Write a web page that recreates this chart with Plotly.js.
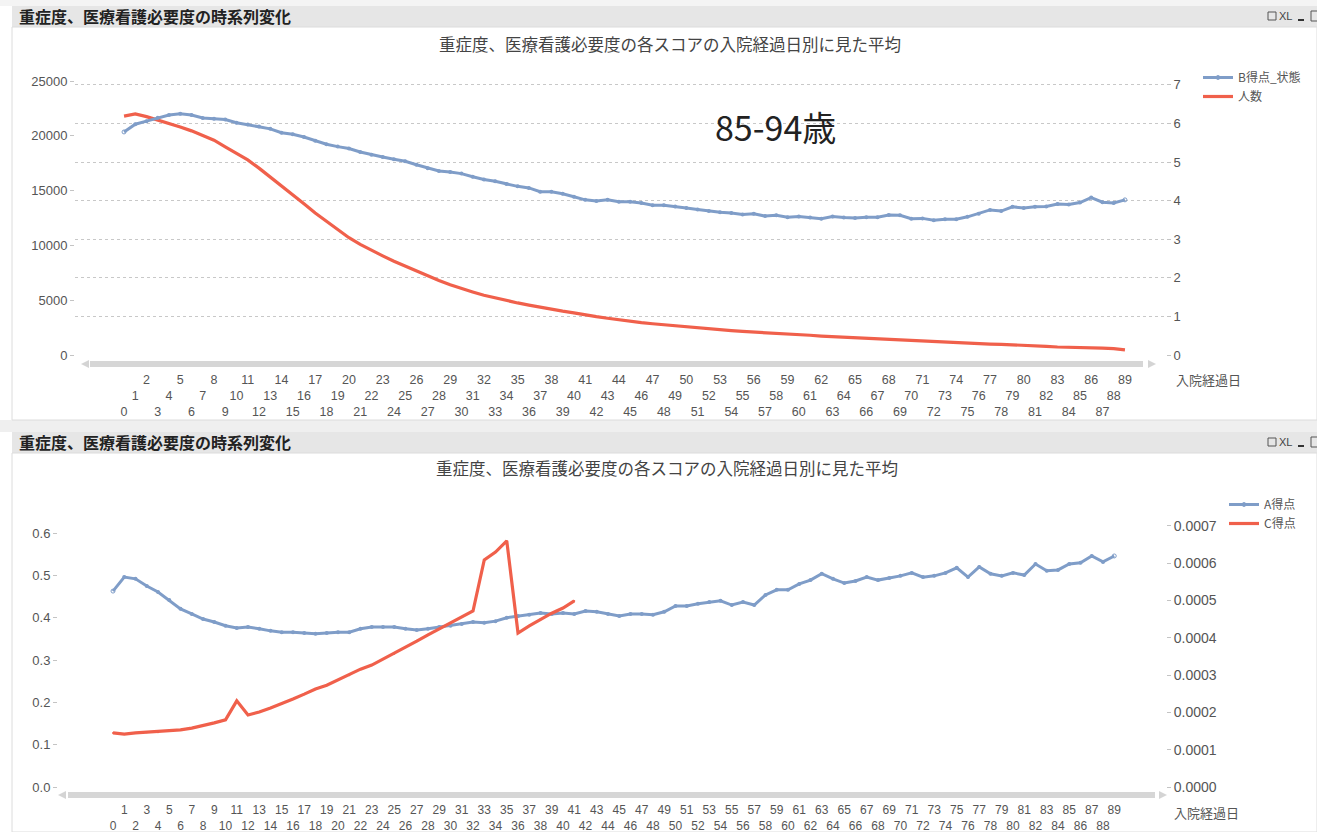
<!DOCTYPE html>
<html>
<head>
<meta charset="utf-8">
<script src="https://cdn.plot.ly/plotly-3.0.1.min.js"></script>
<style>html,body{margin:0;padding:0;background:#fff;}#chart{width:1317px;height:832px;}</style>
</head>
<body>
<div id="chart"></div>
<script>
// ---------- data ----------
const days = [0,1,2,3,4,5,6,7,8,9,10,11,12,13,14,15,16,17,18,19,20,21,22,23,24,25,26,27,28,29,30,31,32,33,34,35,36,37,38,39,40,41,42,43,44,45,46,47,48,49,50,51,52,53,54,55,56,57,58,59,60,61,62,63,64,65,66,67,68,69,70,71,72,73,74,75,76,77,78,79,80,81,82,83,84,85,86,87,88,89];

// top chart: B得点_状態 (right axis) and 人数 (left axis)
const bScore = [5.78,5.98,6.06,6.15,6.22,6.25,6.22,6.14,6.12,6.10,6.02,5.97,5.92,5.86,5.76,5.72,5.65,5.55,5.46,5.40,
5.35,5.26,5.19,5.13,5.07,5.02,4.93,4.84,4.77,4.74,4.70,4.62,4.55,4.50,4.43,4.37,4.33,4.23,4.23,4.18,
4.10,4.02,3.99,4.02,3.97,3.97,3.94,3.88,3.88,3.85,3.81,3.77,3.73,3.70,3.68,3.64,3.66,3.60,3.62,3.57,
3.59,3.56,3.53,3.59,3.56,3.55,3.57,3.57,3.63,3.62,3.53,3.54,3.49,3.52,3.52,3.58,3.66,3.76,3.73,3.84,
3.81,3.84,3.85,3.91,3.90,3.95,4.08,3.96,3.94,4.02];
const patients = [21800,22000,21750,21450,21150,20800,20450,20050,19600,19000,18400,17800,17050,16250,15450,14650,13800,12950,12200,11400,
10700,10100,9550,9050,8550,8100,7650,7200,6800,6400,6050,5750,5450,5200,4950,4750,4550,4350,4200,4000,
3850,3650,3500,3350,3200,3100,2950,2850,2750,2650,2550,2450,2350,2280,2220,2150,2100,2040,1980,1920,
1860,1800,1730,1680,1620,1560,1500,1440,1380,1350,1310,1280,1220,1150,1090,1060,1030,1000,970,940,
910,860,790,730,720,700,660,620,580,470];

// bottom chart: A得点 (left axis) and C得点 (right axis)
const aScore = [0.463,0.496,0.492,0.475,0.461,0.442,0.421,0.409,0.397,0.390,0.381,0.376,0.378,0.374,0.369,0.366,0.366,0.364,0.362,0.364,
0.366,0.366,0.374,0.378,0.378,0.378,0.374,0.371,0.374,0.378,0.381,0.385,0.390,0.388,0.392,0.400,0.404,0.407,0.411,0.409,
0.411,0.409,0.416,0.414,0.409,0.404,0.409,0.409,0.407,0.414,0.428,0.428,0.433,0.437,0.440,0.430,0.437,0.430,0.454,0.466,
0.466,0.480,0.489,0.504,0.492,0.482,0.487,0.496,0.489,0.494,0.499,0.506,0.496,0.499,0.506,0.518,0.496,0.520,0.504,0.499,
0.506,0.501,0.527,0.511,0.513,0.527,0.530,0.546,0.532,0.546];
const cDays = [0,1,2,3,4,5,6,7,8,9,10,11,12,13,14,15,16,17,18,19,20,21,22,23,24,25,26,27,28,29,30,31,32,33,34,35,36,37,38,39,40,41];
const cScore = [0.000145,0.000142,0.000145,0.000147,0.000147,0.000150,0.000153,0.000158,0.000164,0.000172,0.000180,0.000231,0.000193,0.000201,0.000212,0.000223,0.000236,0.000249,0.000263,0.000273,
0.000287,0.000300,0.000316,0.000327,0.000343,0.000357,0.000375,0.000391,0.000408,0.000424,0.000440,0.000456,0.000472,0.000609,0.000630,0.000660,0.000413,0.000432,0.000450,0.000466,
0.000480,0.000499];

const panelTitle = '重症度、医療看護必要度の時系列変化';
const chartTitle = '重症度、医療看護必要度の各スコアの入院経過日別に見た平均';
const ageLabel = '85-94歳';
const xTitle = '入院経過日';
const leftTicksTop = [0,5000,10000,15000,20000,25000];
const leftTicksBottom = [0,0.1,0.2,0.3,0.4,0.5,0.6];

// staggered tick labels
const topTickText = days.map(d => d % 3 === 2 ? String(d) : (d % 3 === 1 ? '<br>' + d : '<br><br>' + d));
const bottomTickText = days.map(d => d % 2 === 1 ? String(d) : '<br>' + d);

// ---------- layout helpers ----------
const W = 1317, H = 832;
const px = x => x / W;
const py = y => 1 - y / H;
const NUM = 'Liberation Sans Narrow, Liberation Sans, Arial Narrow, sans-serif';
const JP = 'Noto Sans CJK JP, sans-serif';
const BLUE = '#7f9dc8';
const RED = '#f0604b';
const TXT = '#555';

const endSymbols = n => Array.from({length: n}, (_, i) => (i === 0 || i === n - 1) ? 'circle-open' : 'circle');

const traces = [
  {x: days, y: bScore, name: 'B得点_状態', type: 'scatter', mode: 'lines+markers',
   xaxis: 'x', yaxis: 'y2', legend: 'legend',
   line: {color: BLUE, width: 3}, marker: {color: BLUE, size: 4, symbol: endSymbols(days.length)}},
  {x: days, y: patients, name: '人数', type: 'scatter', mode: 'lines',
   xaxis: 'x', yaxis: 'y', legend: 'legend',
   line: {color: RED, width: 3.2}},
  {x: days, y: aScore, name: 'A得点', type: 'scatter', mode: 'lines+markers',
   xaxis: 'x2', yaxis: 'y3', legend: 'legend2',
   line: {color: BLUE, width: 3}, marker: {color: BLUE, size: 4, symbol: endSymbols(days.length)}},
  {x: cDays, y: cScore, name: 'C得点', type: 'scatter', mode: 'lines+markers',
   xaxis: 'x2', yaxis: 'y4', legend: 'legend2',
   line: {color: RED, width: 3.2}, marker: {color: RED, size: 2}}
];

function rect(x0, y0, x1, y1, fill, lineColor) {
  return {type: 'rect', xref: 'paper', yref: 'paper', x0: px(x0), x1: px(x1), y0: py(y1), y1: py(y0),
          fillcolor: fill, line: {width: lineColor ? 1 : 0, color: lineColor || fill}, layer: 'below'};
}
function tri(x, y, dir) {
  const s = 4;
  const p = dir < 0
    ? `M${px(x - s)},${py(y)} L${px(x + s)},${py(y - s)} L${px(x + s)},${py(y + s)} Z`
    : `M${px(x + s)},${py(y)} L${px(x - s)},${py(y - s)} L${px(x - s)},${py(y + s)} Z`;
  return {type: 'path', xref: 'paper', yref: 'paper', path: p, fillcolor: '#d4d4d4', line: {width: 0}};
}

const shapes = [
  rect(0, 0, 1317, 6, '#f4f4f4'),
  rect(0, 420, 1317, 432, '#efefef'),
  rect(12, 6, 1317, 27, '#e6e6e6'),
  rect(12, 27, 1317, 420, '#ffffff', '#dcdcdc'),
  rect(12, 432, 1317, 453, '#e6e6e6'),
  rect(12, 453, 1317, 832, '#ffffff', '#dcdcdc'),
  // scrollbars
  rect(90, 361, 1143, 367, '#d6d6d6'),
  rect(68, 792, 1155, 798, '#d6d6d6'),
  tri(85, 364, -1), tri(1152, 364, 1),
  tri(62, 795, -1), tri(1163, 795, 1),
  // header icons
  {type: 'rect', xref: 'paper', yref: 'paper', x0: px(1268), x1: px(1276), y0: py(20), y1: py(12), line: {color: '#555', width: 1}},
  {type: 'line', xref: 'paper', yref: 'paper', x0: px(1298), x1: px(1304), y0: py(20), y1: py(20), line: {color: '#333', width: 2}},
  {type: 'rect', xref: 'paper', yref: 'paper', x0: px(1311), x1: px(1320), y0: py(21), y1: py(11), line: {color: '#555', width: 1}},
  {type: 'rect', xref: 'paper', yref: 'paper', x0: px(1268), x1: px(1276), y0: py(446), y1: py(438), line: {color: '#555', width: 1}},
  {type: 'line', xref: 'paper', yref: 'paper', x0: px(1298), x1: px(1304), y0: py(446), y1: py(446), line: {color: '#333', width: 2}},
  {type: 'rect', xref: 'paper', yref: 'paper', x0: px(1311), x1: px(1320), y0: py(447), y1: py(437), line: {color: '#555', width: 1}}
];

function ann(text, x, y, opts) {
  return Object.assign({text: text, xref: 'paper', yref: 'paper', x: px(x), y: py(y), showarrow: false,
    xanchor: 'left', yanchor: 'middle', font: {family: JP, size: 13, color: TXT}}, opts || {});
}

const annotations = [
  ann(panelTitle, 17, 16, {font: {family: JP, size: 16, color: '#222', weight: 'bold'}}),
  ann(panelTitle, 17, 442, {font: {family: JP, size: 16, color: '#222', weight: 'bold'}}),
  ann('XL', 1285, 16, {font: {family: NUM, size: 11, color: '#444'}, xanchor: 'center'}),
  ann('XL', 1285, 442, {font: {family: NUM, size: 11, color: '#444'}, xanchor: 'center'}),
  ann(chartTitle, 670, 44, {xanchor: 'center', font: {family: JP, size: 16.5, color: '#444'}}),
  ann(chartTitle, 667, 468, {xanchor: 'center', font: {family: JP, size: 16.5, color: '#444'}}),
  ann(ageLabel, 775, 126, {xanchor: 'center', font: {family: JP, size: 34, color: '#222'}}),
  ann(xTitle, 1208, 380, {xanchor: 'center', font: {family: JP, size: 13, color: TXT}}),
  ann(xTitle, 1206, 812, {xanchor: 'center', font: {family: JP, size: 13, color: TXT}})
];

const layout = {
  width: W, height: H,
  margin: {l: 0, r: 0, t: 0, b: 0},
  paper_bgcolor: '#ffffff',
  plot_bgcolor: 'rgba(0,0,0,0)',
  showlegend: true,
  font: {family: NUM, color: TXT},
  xaxis: {domain: [px(75), px(1166)], range: [-4.36, 92.65], anchor: 'y',
          tickmode: 'array', tickvals: days, ticktext: topTickText, tickangle: 0,
          tickfont: {family: NUM, size: 12.5, color: TXT}, ticks: '', ticklabelstandoff: 15,
          showgrid: false, zeroline: false, showline: false, fixedrange: true},
  yaxis: {domain: [py(355), py(81)], range: [0, 25000], tickmode: 'array', tickvals: leftTicksTop, tickformat: 'd',
          ticks: 'outside', ticklen: 4, tickcolor: '#c4c4c4', tickfont: {family: NUM, size: 13, color: TXT},
          showgrid: false, zeroline: false, showline: false, anchor: 'x'},
  yaxis2: {overlaying: 'y', side: 'right', anchor: 'x', range: [0, 7.1], dtick: 1, tick0: 0,
           ticks: 'outside', ticklen: 4, tickcolor: '#c4c4c4', tickfont: {family: NUM, size: 13, color: TXT},
           showgrid: true, griddash: 'dot', gridcolor: '#c8c8c8', gridwidth: 1, zeroline: false, showline: false},
  xaxis2: {domain: [px(58), px(1166)], range: [-4.89, 93.6], anchor: 'y3',
           tickmode: 'array', tickvals: days, ticktext: bottomTickText, tickangle: 0,
           tickfont: {family: NUM, size: 12, color: TXT}, ticks: '', ticklabelstandoff: 14,
           showgrid: false, zeroline: false, showline: false},
  yaxis3: {domain: [py(787), py(520)], range: [0, 0.631], tickmode: 'array', tickvals: leftTicksBottom,
           tickformat: '.1f', ticks: 'outside', ticklen: 4, tickcolor: '#c4c4c4',
           tickfont: {family: NUM, size: 13, color: TXT}, showgrid: false, zeroline: false, showline: false, anchor: 'x2'},
  yaxis4: {overlaying: 'y3', side: 'right', anchor: 'x2', range: [0, 0.000716], dtick: 0.0001, tick0: 0,
           tickformat: '.4f', ticks: 'outside', ticklen: 4, tickcolor: '#c4c4c4',
           tickfont: {family: NUM, size: 14, color: TXT}, showgrid: false, zeroline: false, showline: false},
  legend: {x: px(1198), y: py(63), xanchor: 'left', yanchor: 'top', bgcolor: 'rgba(0,0,0,0)',
           font: {family: JP, size: 12, color: TXT}, tracegroupgap: 0},
  legend2: {x: px(1224), y: py(490), xanchor: 'left', yanchor: 'top', bgcolor: 'rgba(0,0,0,0)',
            font: {family: JP, size: 12, color: TXT}, tracegroupgap: 0},
  shapes: shapes,
  annotations: annotations
};

Plotly.newPlot('chart', traces, layout, {displayModeBar: false, staticPlot: true});
</script>
</body>
</html>
